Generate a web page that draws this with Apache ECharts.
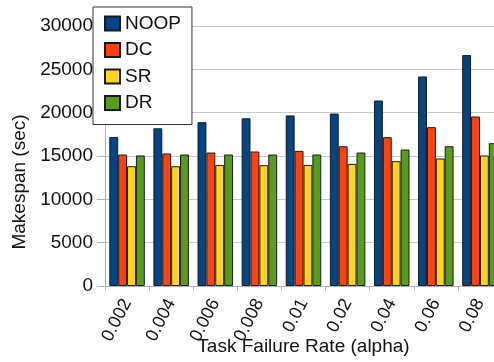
<!DOCTYPE html>
<html><head><meta charset="utf-8">
<script src="https://cdn.jsdelivr.net/npm/echarts@6/dist/echarts.min.js"></script>
<style>html,body{margin:0;padding:0;background:#fff}#c{width:494px;height:362px}</style>
</head><body><div id="c"></div>
<script>
const categories = ['0.002','0.004','0.006','0.008','0.01','0.02','0.04','0.06','0.08'];
const noop = [17200, 18200, 18900, 19350, 19680, 19900, 21400, 24180, 26640];
const dc   = [15170, 15290, 15400, 15520, 15590, 16130, 17170, 18330, 19560];
const sr   = [13820, 13820, 13970, 13940, 13970, 14090, 14400, 14710, 15060];
const dr   = [15060, 15170, 15170, 15170, 15170, 15400, 15750, 16130, 16480];
const seriesNames = ['NOOP','DC','SR','DR'];
const colors = ['#004586','#ff420e','#ffd320','#579d1c'];
const yTicks = {min: 0, max: 30000, interval: 5000};

const font = 'Liberation Sans, Arial, sans-serif';
const chart = echarts.init(document.getElementById('c'), null, {renderer: 'canvas'});
const dataSets = [noop, dc, sr, dr];
chart.setOption({
  animation: false,
  backgroundColor: '#fff',
  color: colors,
  grid: {left: 105, top: 26, width: 397, bottom: 76, containLabel: false, outerBoundsMode: 'none'},
  legend: {
    left: 93, top: 7, orient: 'vertical',
    data: seriesNames,
    itemWidth: 15, itemHeight: 14, itemGap: 7.5,
    padding: [7, 11, 12, 11],
    backgroundColor: '#fff', borderColor: '#333', borderWidth: 1,
    textStyle: {fontFamily: font, fontSize: 19, color: '#111'},
    icon: 'rect'
  },
  xAxis: {
    type: 'category', data: categories,
    name: 'Task Failure Rate (alpha)', nameLocation: 'middle', nameGap: 51, nameMoveOverlap: false,
    nameTextStyle: {fontFamily: font, fontSize: 19, color: '#111'},
    axisLine: {lineStyle: {color: '#b3b3b3'}},
    axisTick: {show: true, length: 5, lineStyle: {color: '#b3b3b3'}},
    axisLabel: {rotate: 63, margin: 14, fontFamily: font, fontSize: 18, color: '#111'}
  },
  yAxis: {
    type: 'value', min: yTicks.min, max: yTicks.max, interval: yTicks.interval,
    name: 'Makespan (sec)', nameLocation: 'middle', nameGap: 76, nameMoveOverlap: false,
    nameTextStyle: {fontFamily: font, fontSize: 19, color: '#111', padding: [0, 52, 0, 0]},
    axisLine: {show: true, lineStyle: {color: '#b3b3b3'}},
    axisTick: {show: true, length: 8, lineStyle: {color: '#b3b3b3'}},
    axisLabel: {margin: 12, fontFamily: font, fontSize: 19, color: '#111', formatter: v => String(v)},
    splitLine: {lineStyle: {color: '#c8c8c8'}}
  },
  series: dataSets.map((d, i) => ({
    name: seriesNames[i], type: 'bar', data: d,
    barGap: '0%', barCategoryGap: '19.5%',
    itemStyle: {color: colors[i], borderColor: '#1a1a1a', borderWidth: 1}
  }))
});
</script></body></html>
